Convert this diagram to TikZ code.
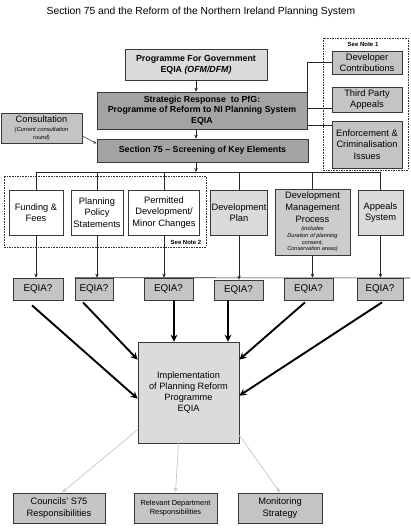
\documentclass[tikz,border=0pt]{standalone}
\usepackage{fontspec}
\setmainfont{Liberation Sans}
\usetikzlibrary{arrows.meta,calc}
\definecolor{lightfill}{gray}{0.86}
\definecolor{midfill}{gray}{0.77}
\definecolor{darkfill}{gray}{0.64}
\definecolor{dmpfill}{gray}{0.80}
\definecolor{edge}{gray}{0.22}
\definecolor{paleline}{gray}{0.78}
\tikzset{
  box/.style={draw=edge, line width=0.7pt, align=center, inner sep=1pt, text=black},
  rg/.style={font=\fontsize{9.3}{11.2}\selectfont},
  bd/.style={font=\bfseries\fontsize{8.8}{10.8}\selectfont},
  conn/.style={draw=black!85, line width=0.6pt},
  arr/.style={conn, -{Stealth[length=4pt,width=3.5pt]}},
  bigarr/.style={draw=black, line width=1.9pt, -{Stealth[length=7pt,width=7pt]}},
  palearr/.style={draw=paleline, line width=0.7pt, -{Stealth[length=5pt,width=4pt]}},
  grpbox/.style={draw=black!80, line width=0.6pt, dash pattern=on 1.6pt off 1pt, inner sep=0pt},
  notetxt/.style={font=\bfseries\fontsize{6}{7}\selectfont, inner sep=0pt},
}
\begin{document}
\begin{tikzpicture}[x=1pt,y=-1pt]
\useasboundingbox (0,0) rectangle (410,532);

\node[font=\fontsize{10.3}{12}\selectfont] (title) at (201,12) {Section 75 and the Reform of the Northern Ireland Planning System};

% top chain
\node[box, bd, fill=lightfill, minimum width=142, minimum height=31] (pfg) at (196,64.5)
  {Programme For Government\\EQIA \textit{(OFM/DFM)}};
\node[box, bd, fill=darkfill, minimum width=210, minimum height=37] (strat) at (202,110.5)
  {Strategic Response\ \ to PfG:\\Programme of Reform to NI Planning System\\EQIA};
\node[box, bd, fill=darkfill, minimum width=211, minimum height=23] (s75) at (202.5,150.5)
  {Section 75 \textendash\ Screening of Key Elements};
\node[box, fill=midfill, minimum width=81, minimum height=30, font=\fontsize{5.8}{7.7}\selectfont\itshape] (cons) at (41.5,128)
  {{\upshape\fontsize{9.3}{10}\selectfont Consultation}\\[1.6pt](Current consultation\\round)};

% right group
\node[grpbox, minimum width=85, minimum height=132] (grp1) at (365.5,104) {};
\node[notetxt] (note1) at (363,44) {See Note 1};
\node[box, rg, fill=midfill, minimum width=70, minimum height=23] (dev) at (367,62.5) {Developer\\Contributions};
\node[box, rg, fill=midfill, minimum width=70, minimum height=25] (third) at (367,99.5) {Third Party\\Appeals};
\node[box, rg, fill=midfill, minimum width=70, minimum height=47] (enf) at (367,144.5) {Enforcement \&\\Criminalisation\\Issues};

\draw[conn] (strat.north east) |- (dev.west);
\draw[conn] ([yshift=-8.5pt]third.west -| strat.east) -- ([yshift=-8.5pt]third.west);
\draw[conn] ([yshift=19.5pt]enf.west -| strat.east) -- ([yshift=19.5pt]enf.west);

\draw[arr] (pfg.south) -- (pfg.south |- strat.north);
\draw[arr] (strat.south -| pfg.south) -- (pfg.south |- s75.north);
\draw[draw=black!75, line width=0.6pt, -{Stealth[length=3.5pt,width=3pt]}] ([yshift=-8pt]cons.east) -- ([yshift=7pt]s75.west);

% row of elements
\node[grpbox, minimum width=202, minimum height=71] (grp2) at (105,211.5) {};
\node[notetxt] (note2) at (186,242) {See Note 2};
\node[box, rg, fill=white, minimum width=54, minimum height=45] (fund) at (36,212.5) {Funding \&\\Fees};
\node[box, rg, fill=white, minimum width=52, minimum height=45] (pps) at (97,212.5) {Planning\\Policy\\Statements};
\node[box, rg, fill=white, minimum width=71, minimum height=45] (pd) at (164,212.5) {Permitted\\Development/\\Minor Changes};
\node[box, rg, fill=lightfill, minimum width=56, minimum height=45] (dplan) at (239,212.5) {Development\\Plan};
\node[box, fill=dmpfill, line width=1pt, minimum width=75, minimum height=66, font=\fontsize{5.6}{6.8}\selectfont\itshape] (dmp) at (312.5,222)
  {{\upshape\fontsize{9.3}{10}\selectfont Development}\\[2.6pt]{\upshape\fontsize{9.3}{10}\selectfont Management}\\[2.6pt]{\upshape\fontsize{9.3}{10}\selectfont Process}\\[1pt]
   (includes\\Duration of planning\\consent,\\Conservation areas)};
\node[box, rg, fill=lightfill, minimum width=45, minimum height=45] (app) at (380.5,212.5) {Appeals\\System};

\coordinate (bus) at (197,172);
\draw[arr] (s75.south -| pfg.south) -- (pfg.south |- bus);
\draw[conn] (fund.north |- bus) -- (app.north |- bus);
\foreach \n in {fund,pps,pd,dplan,dmp,app}{
  \draw[conn] (\n.north |- bus) -- (\n.north);
}

% EQIA row
\tikzset{eqbox/.style={box, font=\fontsize{9.8}{11}\selectfont, fill=midfill, minimum height=22}}
\node[eqbox, minimum width=50] (eq1) at (38,289) {EQIA?};
\node[eqbox, minimum width=38] (eq2) at (94,289) {EQIA?};
\node[eqbox, minimum width=49] (eq3) at (168.5,289) {EQIA?};
\node[eqbox, minimum width=49, minimum height=20] (eq4) at (238.5,290) {EQIA?};
\node[eqbox, minimum width=49] (eq5) at (308.5,289) {EQIA?};
\node[eqbox, minimum width=46] (eq6) at (380,289) {EQIA?};
\coordinate (rightend) at (410,278);
\draw[conn] (eq2.north west) -- (rightend);

\draw[arr] (fund.south) -- (fund.south |- eq1.north);
\draw[arr] (pps.south) -- (pps.south |- eq2.north);
\draw[arr] (pd.south) -- (pd.south |- eq3.north);
\draw[arr] (dplan.south) -- (dplan.south |- eq4.north);
\draw[arr] (dmp.south) -- (dmp.south |- eq5.north);
\draw[arr] (app.south) -- (app.south |- eq6.north);

% implementation
\node[box, fill=lightfill, font=\fontsize{9.2}{10.8}\selectfont, minimum width=101, minimum height=101] (impl) at (188.5,392.5)
  {Implementation\\of Planning Reform\\Programme\\EQIA};

\draw[bigarr] ([xshift=-6pt,yshift=-5pt]eq1.south) -- ([yshift=-57pt]impl.north west);
\draw[bigarr] ([xshift=-11pt,yshift=-2pt]eq2.south) -- ([yshift=-18pt]impl.north west);
\draw[bigarr] ([xshift=5.5pt]eq3.south) -- ([xshift=5.5pt]eq3.south |- impl.north);
\draw[bigarr] ([xshift=-10.5pt]eq4.south) -- ([xshift=-10.5pt]eq4.south |- impl.north);
\draw[bigarr] ([xshift=-3.5pt,yshift=-2pt]eq5.south) -- ([yshift=-18pt]impl.north east);
\draw[bigarr] ([xshift=2pt,yshift=-2pt]eq6.south) -- ([yshift=-54pt]impl.north east);

% bottom
\tikzset{botbox/.style={box, fill=midfill, line width=1pt, minimum height=30}}
\node[botbox, rg, minimum width=92] (cou) at (59,508) {Councils' S75\\Responsibilities};
\node[botbox, font=\fontsize{7.4}{9}\selectfont, minimum width=83] (rel) at (175.5,508) {Relevant Department\\Responsibilities};
\node[botbox, rg, minimum width=84] (mon) at (280,508) {Monitoring\\Strategy};

\draw[palearr] ([yshift=-88pt]impl.north west) -- ([xshift=3pt]cou.north);
\draw[palearr] ([xshift=-10pt]impl.south) -- (rel.north);
\draw[palearr] ([yshift=8pt]impl.south east) -- (mon.north);
\end{tikzpicture}
\end{document}
